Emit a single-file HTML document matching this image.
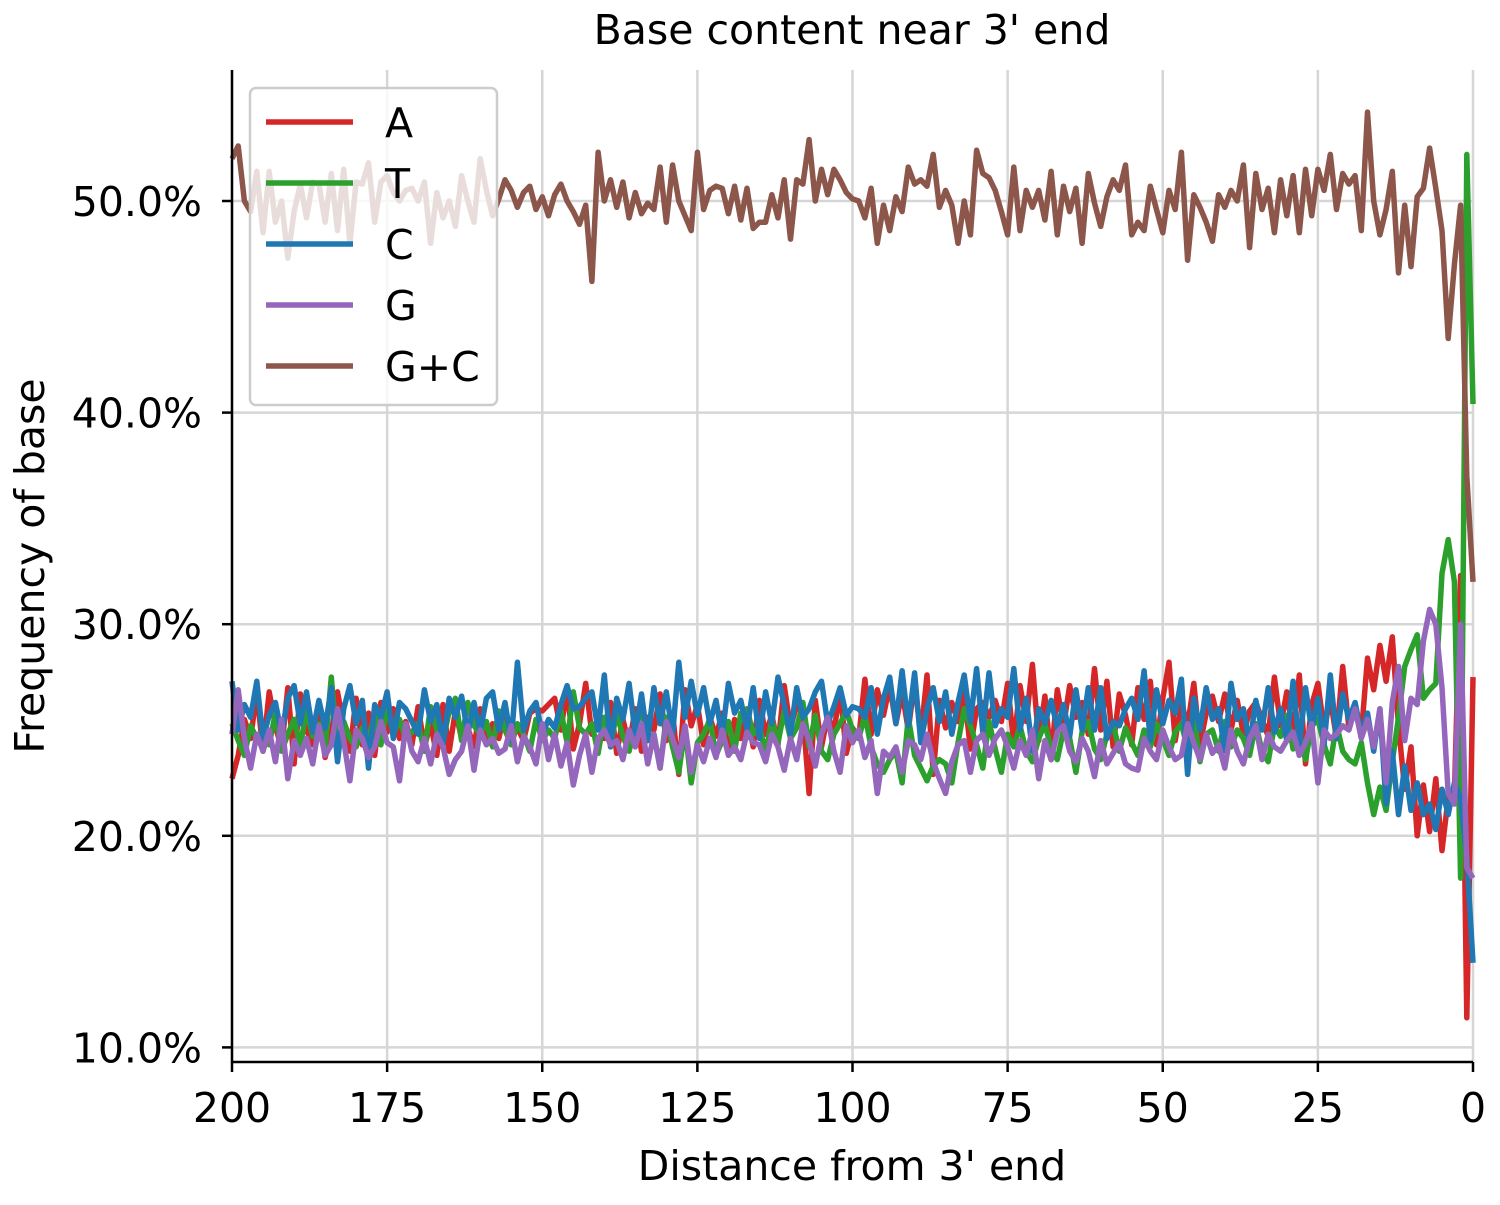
<!DOCTYPE html>
<html><head><meta charset="utf-8"><style>
html,body{margin:0;padding:0;background:#fff;}
svg text{font-family:"DejaVu Sans","Liberation Sans",sans-serif;fill:#000;}
</style></head><body>
<svg id="chart" width="1500" height="1200" xmlns="http://www.w3.org/2000/svg">
<rect width="1500" height="1200" fill="#fff"/>
<g id="grid"></g>
<g id="series"></g>
<g id="axes"></g>
<text x="852" y="44" font-size="41" text-anchor="middle">Base content near 3' end</text>
<text x="852" y="1180" font-size="41" text-anchor="middle">Distance from 3' end</text>
<text x="0" y="0" font-size="41" text-anchor="middle" transform="translate(44,566) rotate(-90)">Frequency of base</text>
<g id="legend"></g>
</svg>
<script>
const xTicks=[200,175,150,125,100,75,50,25,0];
const yTicks=[10,20,30,40,50];
const seriesNames=["A","T","C","G","G+C"];
const gcValues=[52.0,52.6,50.0,49.5,51.4,48.5,51.4,49.0,50.0,47.3,49.5,50.8,49.2,50.9,50.8,49.0,51.3,48.6,51.5,48.0,
50.9,50.8,51.8,49.0,50.9,51.2,50.4,50.0,50.5,50.6,50.0,50.9,48.0,50.4,49.2,50.0,48.8,51.2,50.0,49.0,
52.0,50.5,49.3,50.1,51.0,50.5,49.7,50.4,50.7,49.6,50.2,49.3,50.3,50.8,50.0,49.5,48.9,49.8,46.2,52.3,
50.0,51.0,49.7,50.9,49.2,50.4,49.4,49.9,49.6,51.6,49.0,51.7,50.0,49.3,48.6,52.3,49.6,50.5,50.7,50.6,
49.4,50.7,49.1,50.6,48.7,49.0,49.0,50.3,49.2,51.0,48.2,51.0,50.8,52.9,50.0,51.5,50.3,51.5,51.0,50.4,
50.1,50.0,49.2,50.6,48.0,49.8,48.6,50.2,49.5,51.6,50.8,51.0,50.7,52.2,49.7,50.5,49.8,48.0,50.0,48.4,
52.4,51.3,51.1,50.5,49.5,48.4,51.6,48.6,50.5,49.7,50.5,49.1,51.4,48.4,50.7,49.5,50.6,48.0,51.3,49.9,
48.8,50.2,51.0,50.5,51.7,48.4,49.0,48.6,50.7,49.6,48.5,50.5,49.6,52.3,47.2,50.3,49.7,49.0,48.1,50.3,
49.7,50.5,50.0,51.7,47.8,51.3,49.6,50.6,48.5,51.0,49.3,51.2,48.5,51.5,49.3,51.5,50.5,52.2,49.6,51.3,
50.8,51.2,48.6,54.2,50.0,48.4,49.6,51.4,46.6,49.8,46.9,50.2,50.6,52.5,50.6,48.6,43.5,47.0,49.8,37.0,32.0];
const aValues=[22.7,23.8,25.5,24.6,26.8,24.0,26.8,25.2,24.1,27.0,23.4,26.7,25.0,24.3,26.0,23.7,24.8,26.8,25.2,24.0,
26.5,24.3,25.8,23.8,26.3,24.9,26.0,24.6,25.4,24.3,26.1,24.2,25.3,23.8,26.2,24.0,25.9,24.6,25.1,24.2,
26.0,24.4,25.3,24.6,25.9,24.8,25.1,24.5,25.8,26.0,25.9,26.2,26.5,25.0,27.0,24.1,25.3,27.2,24.8,25.6,
24.6,26.3,23.9,25.5,24.3,26.0,24.0,25.6,25.0,26.7,24.5,25.8,22.9,26.9,25.2,26.2,24.3,25.6,24.7,25.8,
23.9,25.5,24.6,25.8,24.2,26.4,24.8,25.7,24.3,27.1,25.1,26.2,25.7,22.0,26.4,24.2,25.7,24.9,26.9,23.9,
25.1,24.6,27.4,24.8,26.9,25.7,27.1,25.3,26.8,25.0,27.3,24.7,27.6,22.9,26.4,25.1,26.3,25.4,26.8,24.1,
26.0,26.3,25.6,26.4,25.4,27.2,24.3,27.1,25.4,28.1,24.5,26.6,23.6,26.9,25.2,27.1,25.6,26.3,24.8,27.9,
25.0,27.3,24.2,26.7,25.7,24.3,27.0,25.5,27.3,24.3,26.5,28.2,24.5,26.3,25.2,27.2,24.3,25.8,26.6,25.4,
26.7,25.0,26.4,24.8,25.9,26.3,25.5,24.7,27.5,25.2,26.8,24.8,27.6,23.4,26.2,27.2,25.0,26.5,24.6,28.0,
25.1,26.2,24.8,28.4,26.9,29.0,27.3,29.4,25.2,22.2,24.2,20.0,22.4,20.2,22.7,19.3,21.8,22.0,32.3,11.4,27.5];
const tValues=[25.3,24.5,23.8,25.2,24.6,25.0,24.3,25.8,24.0,24.8,25.5,24.2,26.0,24.7,25.3,24.1,27.5,24.0,25.4,24.6,
24.2,25.1,24.6,25.7,24.3,26.2,24.8,25.5,24.6,24.9,25.3,24.0,26.1,25.0,24.5,25.9,26.5,24.5,26.3,25.2,
24.8,25.4,24.2,25.9,25.0,24.3,25.3,24.8,24.0,25.5,24.5,25.0,24.6,25.9,24.4,26.8,25.1,24.8,25.3,23.9,
25.6,24.3,25.8,24.7,24.0,25.2,25.9,24.5,24.8,23.2,25.6,24.2,23.0,25.1,22.5,24.4,24.8,25.5,23.8,24.5,
25.4,24.0,25.8,26.0,24.8,25.2,23.9,25.5,24.4,25.9,24.6,25.1,26.3,24.2,25.7,24.0,23.6,24.8,25.3,25.9,
25.0,24.6,25.7,24.2,23.4,23.0,23.6,24.0,22.5,25.6,23.8,23.2,22.6,23.3,23.6,23.4,22.5,24.4,26.0,25.2,
24.3,23.2,25.4,24.1,23.0,24.8,24.2,25.2,24.0,23.5,24.6,25.3,24.1,23.6,25.0,24.6,23.0,24.9,25.4,24.1,
23.6,24.8,25.3,24.0,25.1,24.4,23.8,25.0,24.2,25.3,24.6,23.8,24.9,25.3,24.1,25.6,23.5,24.8,25.0,24.0,
25.4,24.2,25.0,24.6,23.8,25.3,24.0,23.5,25.2,24.7,25.7,24.1,24.8,23.6,25.2,25.5,24.3,23.4,25.3,24.0,
23.6,23.4,24.4,22.5,21.0,22.3,21.2,23.5,25.6,28.0,28.8,29.5,26.5,26.9,27.2,32.4,34.0,32.0,18.0,52.2,40.4];
const cValues=[27.3,25.0,26.2,25.6,27.3,24.6,25.7,26.3,24.8,26.5,27.1,25.3,26.8,24.9,26.4,25.1,27.0,23.5,26.0,27.1,
25.3,26.4,23.2,26.2,25.6,26.8,24.6,26.3,26.0,25.4,24.8,26.9,25.4,26.2,24.3,26.5,25.6,26.6,24.8,26.3,
24.9,26.5,26.8,25.0,26.3,24.5,28.2,25.0,25.9,26.3,24.8,25.5,25.1,26.2,27.1,26.0,26.1,26.5,26.8,25.0,
27.6,24.2,26.5,25.5,27.2,24.8,26.7,24.5,27.0,25.3,26.8,24.8,28.2,25.6,27.3,25.7,27.0,25.3,26.4,24.7,
27.2,25.8,26.4,25.0,27.0,24.6,26.8,25.3,27.5,26.2,24.8,27.0,25.6,26.0,26.8,27.3,25.3,26.1,27.0,25.7,
26.1,26.0,25.6,27.0,24.8,26.5,27.5,25.3,27.8,25.2,27.7,24.4,26.0,27.0,25.4,26.8,24.8,26.3,27.6,25.4,
27.9,24.9,27.7,25.2,26.0,25.6,27.9,25.0,26.5,24.0,26.0,25.3,26.4,25.1,26.2,24.7,26.9,25.0,27.0,25.0,
27.0,24.6,25.4,25.2,26.0,26.5,25.5,27.8,24.5,26.9,25.3,26.4,25.8,27.4,22.9,26.5,25.0,27.0,25.5,26.0,
24.0,27.2,25.5,26.0,24.3,26.4,25.0,27.0,24.9,26.0,24.5,27.3,24.2,27.0,25.0,26.5,24.3,27.6,24.6,26.7,
25.5,26.3,24.8,25.8,24.0,26.0,21.5,24.0,21.0,23.3,21.2,22.5,21.0,21.5,20.3,22.2,21.0,22.5,21.8,19.0,14.0];
const gValues=[24.8,26.9,24.6,23.2,24.8,24.0,25.0,23.5,25.5,22.7,24.5,23.8,24.6,23.4,25.2,23.8,24.3,26.0,24.5,22.6,
25.0,24.6,23.7,24.2,25.4,24.4,24.2,22.6,25.3,24.0,23.5,24.6,23.4,24.8,24.2,22.9,23.6,24.0,25.2,23.1,
25.0,24.3,24.6,23.9,24.1,25.2,23.5,24.7,24.2,23.4,25.3,23.6,24.8,23.3,24.4,22.4,23.8,24.8,23.0,24.6,
25.0,24.3,24.5,23.6,25.0,24.2,25.3,23.4,24.8,23.2,25.4,24.6,23.7,25.2,23.0,24.3,23.5,24.6,23.7,25.0,
23.8,24.2,23.6,24.9,24.4,24.3,23.5,24.8,24.2,23.1,24.6,23.6,25.3,24.5,23.3,24.8,25.6,24.0,23.0,25.2,
24.4,25.0,23.7,24.5,22.0,24.0,23.7,24.2,23.0,24.5,24.3,23.6,24.8,23.5,22.7,22.0,23.5,24.3,24.5,23.0,
24.5,24.8,23.8,24.6,25.0,24.2,23.2,24.5,23.8,25.0,22.7,24.5,23.6,24.9,25.2,24.0,23.5,24.6,24.0,22.8,
24.5,23.4,23.9,24.4,23.4,23.2,23.1,24.6,24.0,23.6,25.0,24.2,23.6,23.8,25.3,24.4,23.6,24.8,23.9,24.3,
23.2,25.0,24.0,23.4,24.6,25.2,23.6,24.8,24.2,24.0,24.5,24.9,23.8,24.4,25.3,22.5,25.0,24.6,24.8,25.2,
25.0,26.0,24.6,25.5,24.2,26.0,22.5,26.3,28.0,24.5,26.5,26.2,29.2,30.7,30.0,27.0,22.0,21.5,30.0,18.5,18.0];

const NS="http://www.w3.org/2000/svg";
const L=232,R=1473,T=70,B=1062;
function xScale(d){return L+(200-d)/200*(R-L);}
function yScale(v){return 201+(50-v)*21.16;}
function mk(tag,attrs,parent){const e=document.createElementNS(NS,tag);for(const k in attrs)e.setAttribute(k,attrs[k]);parent.appendChild(e);return e;}
const grid=document.getElementById('grid'),axes=document.getElementById('axes'),series=document.getElementById('series'),legend=document.getElementById('legend');
xTicks.forEach(t=>{const x=xScale(t);
 const g=mk('line',{x1:x,x2:x,y1:T,y2:B,stroke:'#d6d6d6','stroke-width':2.5},grid);
 
 
 const tk=mk('line',{x1:x,x2:x,y1:B,y2:B+10,stroke:'#000','stroke-width':2.5},axes);
 
 
 const tx=mk('text',{x:x,y:B+60,'font-size':41,'text-anchor':'middle'},axes);tx.textContent=t;
 
 
});
yTicks.forEach(t=>{const y=yScale(t);
 const g=mk('line',{x1:L,x2:R,y1:y,y2:y,stroke:'#d6d6d6','stroke-width':2.5},grid);
 
 
 const tk=mk('line',{x1:L-10,x2:L,y1:y,y2:y,stroke:'#000','stroke-width':2.5},axes);
 
 
 const tx=mk('text',{x:L-30,y:y+15,'font-size':41,'text-anchor':'end'},axes);tx.textContent=t.toFixed(1)+'%';
 
 
});
const ls=mk('line',{x1:L,x2:L,y1:T,y2:B+1,stroke:'#000','stroke-width':2.5},axes);


const bs=mk('line',{x1:L-1,x2:R,y1:B,y2:B,stroke:'#000','stroke-width':2.5},axes);


const allSeries=[aValues,tValues,cValues,gValues,gcValues];
const colors=["#d62728","#2ca02c","#1f77b4","#9467bd","#8c564b"];
const keys=["a","t","c","g","gc"];
allSeries.forEach((vals,si)=>{
 const pts=vals.map((v,i)=>xScale(200-i).toFixed(1)+','+yScale(v).toFixed(1)).join(' ');
 const p=mk('polyline',{points:pts,fill:'none',stroke:colors[si],'stroke-width':5.5,'stroke-linejoin':'round'},series);
 
 
});
const box=mk('rect',{x:250,y:88,width:247,height:317,rx:6,fill:'rgba(255,255,255,0.8)',stroke:'#cccccc','stroke-width':2.5},legend);


seriesNames.forEach((n,i)=>{const y=122+i*61;
 const g=mk('g',{},legend);
 
 
 mk('line',{x1:266,x2:353,y1:y,y2:y,stroke:colors[i],'stroke-width':5.5},g);
 const t=mk('text',{x:385,y:y+15,'font-size':41},g);t.textContent=n;
});
</script>
</body></html>
